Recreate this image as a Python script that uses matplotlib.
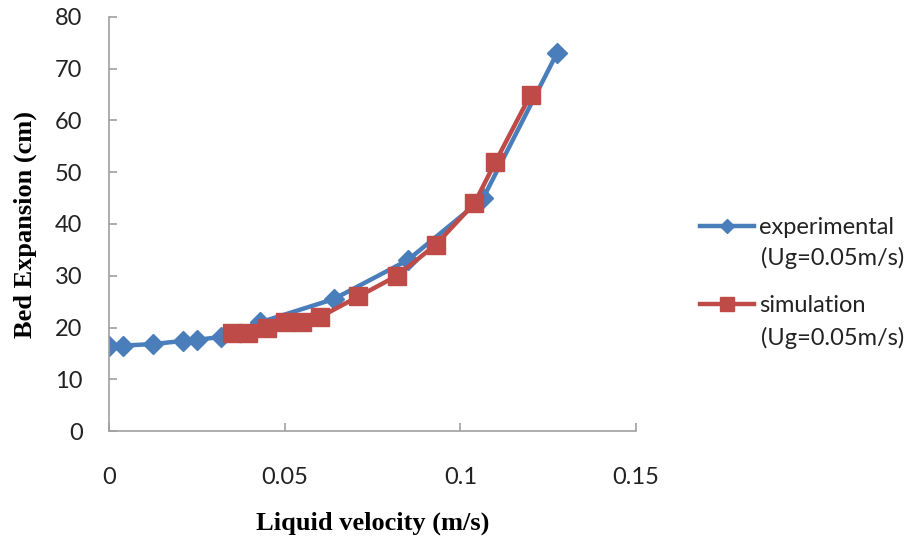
import matplotlib.pyplot as plt

# data
exp_x = [0.0, 0.004, 0.0125, 0.021, 0.025, 0.032, 0.043, 0.064, 0.085, 0.1065, 0.1275]
exp_y = [16.5, 16.5, 16.8, 17.4, 17.6, 18.2, 21.0, 25.5, 33.0, 45.0, 73.0]

sim_x = [0.035, 0.0397, 0.045, 0.050, 0.055, 0.060, 0.071, 0.082, 0.093, 0.104, 0.110, 0.120]
sim_y = [19, 19, 20, 21, 21, 22, 26, 30, 36, 44, 52, 65]

x_ticks = [0, 0.05, 0.1, 0.15]
x_ticklabels = ['0', '0.05', '0.1', '0.15']
y_ticks = [0, 10, 20, 30, 40, 50, 60, 70, 80]

series_names = ['experimental', 'simulation']
series_note = '(Ug=0.05m/s)'

blue = '#4A7EBB'
red = '#BE4B48'
grey = '#A0A0A0'
text_col = '#222222'
sans = 'Lato'
serif = 'Liberation Serif'

fig = plt.figure(figsize=(9.12, 5.41), dpi=100)
ax = fig.add_axes([109 / 912, 1 - 431 / 541, (636 - 109) / 912, (431 - 17) / 541])

ax.plot(exp_x, exp_y, color=blue, lw=3.2, marker='D', ms=10,
        label=series_names[0], zorder=2)
ax.plot(sim_x, sim_y, color=red, lw=3.2, marker='s', ms=12.5,
        label=series_names[1], zorder=3)

ax.set_xlim(0, 0.15)
ax.set_ylim(0, 80)
ax.set_xticks(x_ticks)
ax.set_xticklabels(x_ticklabels)
ax.set_yticks(y_ticks)

for side in ['top', 'right']:
    ax.spines[side].set_visible(False)
for side in ['left', 'bottom']:
    ax.spines[side].set_color(grey)
    ax.spines[side].set_linewidth(1.2)

ax.tick_params(axis='both', direction='in', length=6, width=1.2, color=grey,
               labelsize=17, labelcolor=text_col)
ax.tick_params(axis='x', pad=26)
ax.tick_params(axis='y', pad=19)
for lbl in ax.get_xticklabels() + ax.get_yticklabels():
    lbl.set_fontfamily(sans)

ax.set_xlabel('Liquid velocity (m/s)', fontfamily=serif, fontweight='bold', fontsize=19)
ax.set_ylabel('Bed Expansion (cm)', fontfamily=serif, fontweight='bold', fontsize=19)
ax.xaxis.set_label_coords(0.5, -0.195)
ax.yaxis.set_label_coords(-0.137, 0.5)

# legend: handle sits on the first line, second line added as plain text
leg = fig.legend(loc='upper left', bbox_to_anchor=(700 / 912, 1 - 217 / 541),
                 frameon=False, numpoints=1, handlelength=2.3, handletextpad=0.2,
                 labelspacing=2.43, borderpad=0, borderaxespad=0, markerscale=0.75,
                 prop={'family': sans, 'size': 17})
for t in leg.get_texts():
    t.set_color(text_col)
for yb in [265, 345]:
    fig.text(761 / 912, 1 - yb / 541, series_note, ha='left', va='baseline',
             fontfamily=sans, fontsize=17, color=text_col)

fig.savefig('out.png', dpi=100)
